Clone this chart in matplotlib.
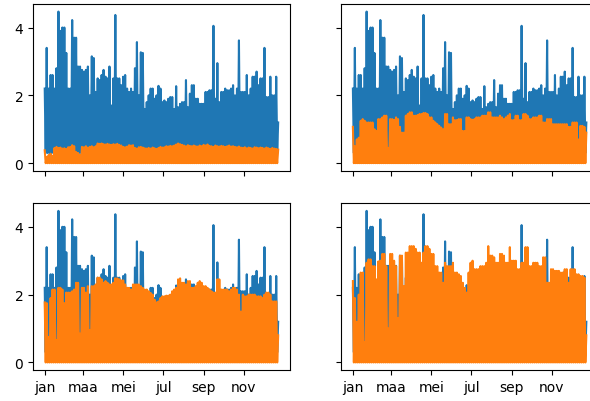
import numpy as np
import pandas as pd
import matplotlib
matplotlib.use('Agg')
import matplotlib.pyplot as plt
import matplotlib.dates as mdates
from matplotlib.ticker import FuncFormatter

# daily peak values, one sample every 3 days from 1 jan
start = '2019-01-01'
low_usage = 0.3
low_supply = 0.0

usage = [
    2.2, 3.4, 2.2, 2.6, 2.6, 2.2, 2.8, 4.47, 3.9, 4.0,
    4.0, 3.25, 2.2, 2.2, 4.22, 3.7, 3.7, 2.85, 2.85, 2.75,
    2.7, 2.75, 2.85, 2.0, 3.15, 3.1, 2.1, 2.5, 2.45, 2.6,
    2.75, 2.55, 2.5, 2.85, 1.7, 2.5, 4.37, 2.5, 2.5, 2.3,
    2.55, 2.6, 2.2, 2.1, 2.2, 2.1, 2.8, 3.57, 2.0, 3.27,
    3.25, 1.6, 1.8, 2.0, 2.2, 2.2, 1.9, 2.0, 2.28, 2.2,
    1.8, 1.85, 1.8, 1.9, 1.95, 1.95, 1.6, 2.27, 1.65, 1.75,
    1.8, 1.8, 2.45, 1.65, 2.05, 2.3, 2.3, 1.9, 1.9, 1.75,
    1.75, 1.75, 2.1, 2.1, 2.15, 2.15, 4.05, 1.9, 2.95, 1.8,
    2.1, 2.1, 2.2, 2.15, 2.15, 2.2, 2.3, 2.0, 2.2, 3.62,
    2.1, 2.1, 2.1, 2.6, 2.0, 2.2, 2.55, 2.55, 2.7, 2.3,
    2.5, 2.5, 3.4, 1.95, 1.95, 2.55, 2.0, 2.0, 2.55, 1.2,
]

supply_a = [
    0.38, 0.18, 0.24, 0.28, 0.22, 0.45, 0.48, 0.45, 0.46, 0.43,
    0.44, 0.42, 0.47, 0.48, 0.53, 0.5, 0.33, 0.3, 0.24, 0.48,
    0.47, 0.5, 0.46, 0.48, 0.5, 0.47, 0.5, 0.58, 0.57, 0.58,
    0.56, 0.55, 0.57, 0.55, 0.54, 0.56, 0.55, 0.57, 0.54, 0.52,
    0.48, 0.47, 0.49, 0.53, 0.52, 0.53, 0.45, 0.43, 0.47, 0.48,
    0.46, 0.44, 0.43, 0.45, 0.43, 0.46, 0.44, 0.42, 0.45, 0.48,
    0.46, 0.47, 0.5, 0.49, 0.51, 0.5, 0.52, 0.55, 0.58, 0.56,
    0.54, 0.52, 0.5, 0.53, 0.51, 0.5, 0.52, 0.5, 0.49, 0.52,
    0.5, 0.54, 0.52, 0.55, 0.51, 0.5, 0.48, 0.52, 0.5, 0.49,
    0.51, 0.5, 0.48, 0.5, 0.52, 0.49, 0.5, 0.48, 0.47, 0.49,
    0.46, 0.45, 0.47, 0.44, 0.46, 0.45, 0.43, 0.47, 0.46, 0.44,
    0.46, 0.45, 0.43, 0.46, 0.44, 0.42, 0.45, 0.43, 0.42, 0.4,
]

supply_b = [
    1.07, 0.5, 0.7, 0.75, 1.25, 1.3, 1.25, 1.2, 1.2, 1.2,
    1.2, 1.0, 0.95, 1.3, 1.3, 1.35, 1.4, 1.4, 0.45, 1.3,
    1.3, 1.28, 1.35, 1.3, 1.07, 0.9, 0.9, 1.4, 1.45, 1.5,
    1.5, 1.4, 1.4, 1.42, 1.45, 1.45, 1.48, 1.48, 1.45, 1.35,
    1.35, 1.25, 1.2, 1.15, 1.1, 1.05, 1.0, 1.45, 1.45, 1.15,
    1.15, 1.35, 1.27, 1.27, 1.3, 1.3, 0.95, 0.95, 1.35, 1.35,
    1.3, 1.28, 1.3, 1.35, 1.35, 1.35, 1.4, 1.4, 1.4, 1.5,
    1.5, 1.35, 1.35, 1.35, 1.35, 1.4, 1.35, 1.3, 1.35, 1.4,
    1.45, 1.27, 1.27, 1.4, 1.4, 1.27, 1.27, 1.45, 1.45, 1.4,
    1.3, 1.3, 1.35, 1.35, 1.35, 1.4, 1.4, 1.2, 1.2, 1.3,
    1.3, 1.3, 1.15, 1.15, 1.15, 1.15, 1.15, 1.15, 1.15, 1.15,
    1.07, 1.07, 1.2, 1.2, 1.2, 0.7, 1.1, 1.1, 1.07, 0.9,
]

supply_c = [
    1.77, 1.75, 0.75, 1.9, 2.15, 2.15, 0.66, 2.2, 2.2, 2.15,
    1.75, 2.06, 2.06, 2.06, 2.1, 2.15, 2.35, 2.35, 0.85, 2.2,
    2.2, 2.06, 2.25, 0.95, 2.25, 2.25, 2.3, 2.5, 2.5, 2.45,
    2.35, 2.4, 2.35, 2.3, 2.3, 2.35, 2.48, 2.48, 2.45, 2.42,
    2.42, 2.3, 2.2, 2.2, 2.15, 2.3, 2.3, 2.3, 2.3, 2.25,
    2.2, 2.15, 2.15, 2.1, 2.05, 2.0, 1.85, 1.77, 1.8, 1.9,
    1.95, 1.95, 1.97, 1.97, 2.0, 2.1, 2.15, 2.2, 2.45, 2.48,
    2.35, 2.35, 2.3, 2.4, 2.4, 2.2, 2.2, 2.25, 2.35, 2.4,
    2.35, 2.25, 2.25, 2.2, 2.15, 2.1, 2.06, 2.06, 2.45, 2.45,
    2.15, 2.15, 2.15, 2.15, 2.1, 2.15, 2.2, 2.2, 2.15, 2.0,
    1.5, 2.0, 1.95, 1.95, 2.0, 2.0, 2.0, 2.0, 1.95, 1.95,
    1.95, 1.9, 2.0, 2.06, 2.06, 2.0, 1.8, 1.8, 1.8, 0.8,
]

supply_d = [
    2.4, 1.9, 1.2, 2.0, 2.65, 2.65, 0.6, 2.94, 3.04, 3.04,
    2.84, 2.84, 2.45, 2.98, 3.0, 3.2, 3.2, 2.84, 1.0, 3.2,
    3.2, 3.0, 2.84, 1.3, 3.15, 3.15, 2.25, 3.24, 3.24, 3.43,
    3.43, 3.43, 3.35, 3.24, 3.24, 2.94, 3.24, 3.43, 3.43, 3.35,
    3.2, 3.2, 2.84, 2.84, 2.65, 2.65, 2.35, 2.94, 2.84, 2.84,
    2.84, 2.94, 2.65, 2.65, 2.6, 2.55, 2.35, 2.2, 2.06, 2.65,
    2.94, 3.0, 2.75, 2.75, 2.75, 2.84, 2.84, 2.84, 2.94, 3.43,
    3.15, 3.15, 3.1, 2.94, 2.94, 3.2, 3.2, 3.15, 2.94, 2.94,
    3.4, 3.0, 3.0, 3.0, 2.75, 2.75, 2.94, 2.94, 3.4, 3.4,
    2.84, 2.84, 2.94, 2.94, 2.94, 2.84, 2.84, 3.1, 3.1, 2.35,
    2.35, 2.75, 2.75, 2.7, 2.7, 2.7, 2.65, 2.65, 2.75, 2.75,
    2.35, 2.75, 2.75, 2.75, 2.6, 2.6, 2.55, 2.55, 2.5, 0.8,
]

month_names = ['jan', 'feb', 'maa', 'apr', 'mei', 'jun',
               'jul', 'aug', 'sep', 'okt', 'nov', 'dec']
tick_months = ['2019-01-01', '2019-03-01', '2019-05-01',
               '2019-07-01', '2019-09-01', '2019-11-01']


def zigzag(peaks, low):
    # each sample is a day peak followed by the night low
    dates = pd.date_range(start, periods=len(peaks), freq='3D')
    times = np.column_stack([dates.values, (dates + pd.Timedelta(hours=36)).values]).ravel()[:-1]
    values = np.column_stack([peaks, np.full(len(peaks), low)]).ravel()[:-1]
    return times, values


def month_label(x, pos):
    return month_names[mdates.num2date(x).month - 1]


fig, axs = plt.subplots(2, 2, sharex=True, sharey=True, figsize=(5.9, 4.02), dpi=100)
fig.subplots_adjust(left=0.056, right=1.0136, bottom=0.077, top=0.9876, wspace=0.2, hspace=0.195)

t_use, v_use = zigzag(usage, low_usage)
for ax, supply in zip(axs.flat, [supply_a, supply_b, supply_c, supply_d]):
    ax.plot(t_use, v_use, color='C0')
    t_sup, v_sup = zigzag(supply, low_supply)
    ax.plot(t_sup, v_sup, color='C1')

axs[0, 0].set_yticks([0, 2, 4])
axs[0, 0].set_xticks(pd.to_datetime(tick_months))
axs[0, 0].xaxis.set_major_formatter(FuncFormatter(month_label))

plt.savefig('out.png', dpi=100)
